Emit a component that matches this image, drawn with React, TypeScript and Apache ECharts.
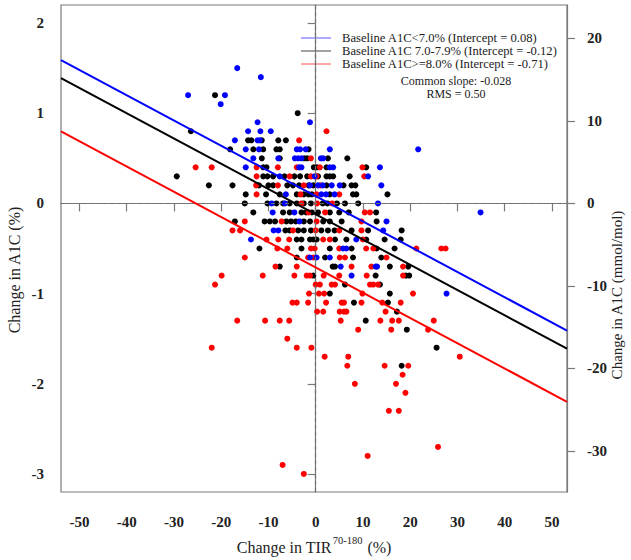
import React, { useEffect, useRef } from "react";
import * as echarts from "echarts";

// ---------- data ----------
const xTicks = [-50, -40, -30, -20, -10, 0, 10, 20, 30, 40, 50];
const yTicks = [-3, -2, -1, 0, 1, 2];
const mmolTicks = [-30, -20, -10, 0, 10, 20];
const xRange = [-53.9, 53.2];
const yRange = [-3.2, 2.2];
const mmolPerPercent = 10.929;

const groupNames = [
  "Baseline A1C<7.0% (Intercept = 0.08)",
  "Baseline A1C 7.0-7.9% (Intercept = -0.12)",
  "Baseline A1C>=8.0% (Intercept = -0.71)",
];
const intercepts = [0.08, -0.12, -0.71];
const commonSlope = -0.028;
const rms = 0.5;

const bluePoints: [number, number][] = [
  [-16.6, 1.5], [-11.6, 1.4], [-27.0, 1.2], [-19.2, 1.2], [-20.1, 1.1], [-12.3, 0.9], [-1.2, 0.9],
  [-14.3, 0.8], [-11.7, 0.8], [-9.5, 0.8],
  [-17.1, 0.7], [-12.3, 0.7], [-11.8, 0.7],
  [-14.8, 0.6], [-12.0, 0.6], [-4.0, 0.6], [-3.3, 0.6], [-2.1, 0.6], [3.0, 0.6], [21.7, 0.6],
  [-13.2, 0.5], [-7.9, 0.5], [-4.4, 0.5], [-3.7, 0.5], [-3.0, 0.5], [1.1, 0.5], [1.6, 0.5],
  [-14.8, 0.4], [-3.5, 0.4], [-3.0, 0.4], [3.0, 0.4], [3.7, 0.4], [13.6, 0.4],
  [-7.6, 0.3], [-0.2, 0.3], [11.1, 0.3],
  [-1.2, 0.2], [0.5, 0.2], [1.5, 0.2], [3.4, 0.2], [5.1, 0.2], [13.9, 0.2],
  [-6.3, 0.1], [1.2, 0.1], [2.2, 0.1], [4.0, 0.1],
  [-9.3, 0.0], [-6.5, 0.0], [13.2, 0.0],
  [-9.1, -0.1], [-4.5, -0.1], [34.9, -0.1],
  [-3.4, -0.2], [15.0, -0.2],
  [-8.9, -0.3], [-7.9, -0.3], [14.3, -0.3],
  [-13.7, -0.4], [8.6, -0.4],
  [5.8, -0.5], [6.5, -0.5],
  [-1.2, -0.6], [0.2, -0.6], [3.0, -0.6],
  [5.3, -0.7], [12.7, -0.7], [13.0, -0.7],
  [7.6, -0.8],
  [27.7, -1.0],
];

const blackPoints: [number, number][] = [
  [-21.3, 1.2], [-3.8, 1.0], [-26.4, 0.8],
  [-14.3, 0.7], [-13.6, 0.7], [-11.4, 0.7], [-7.9, 0.7], [-6.3, 0.7],
  [-18.1, 0.6], [-13.2, 0.6], [-11.1, 0.6], [-8.3, 0.6], [-7.6, 0.6], [-1.5, 0.6],
  [-11.4, 0.5], [-7.6, 0.5], [-2.4, 0.5], [-1.8, 0.5], [2.6, 0.5], [6.7, 0.5],
  [-11.1, 0.4], [-10.4, 0.4], [-0.4, 0.4], [0.3, 0.4], [2.3, 0.4], [10.7, 0.4],
  [-29.4, 0.3], [-11.1, 0.3], [-10.2, 0.3], [-9.0, 0.3], [-6.6, 0.3], [-4.5, 0.3], [-3.3, 0.3], [-1.8, 0.3], [0.5, 0.3], [2.3, 0.3], [3.0, 0.3], [3.7, 0.3], [7.2, 0.3],
  [-22.6, 0.2], [-17.6, 0.2], [-12.0, 0.2], [-10.0, 0.2], [-9.0, 0.2], [-6.0, 0.2], [-4.8, 0.2], [-3.5, 0.2], [-1.5, 0.2], [-0.5, 0.2], [2.3, 0.2], [5.9, 0.2], [7.6, 0.2], [8.4, 0.2],
  [-14.8, 0.1], [-10.5, 0.1], [-7.6, 0.1], [-4.0, 0.1], [-2.5, 0.1], [-1.5, 0.1], [-0.8, 0.1], [3.0, 0.1], [7.9, 0.1], [8.6, 0.1], [15.2, 0.1],
  [-15.0, 0.0], [-10.2, 0.0], [-8.3, 0.0], [-6.9, 0.0], [-5.5, 0.0], [-4.0, 0.0], [-2.5, 0.0], [-1.0, 0.0], [1.5, 0.0], [2.5, 0.0], [4.5, 0.0], [6.2, 0.0], [9.0, 0.0],
  [-13.2, -0.1], [-6.9, -0.1], [-5.5, -0.1], [-3.0, -0.1], [-2.0, -0.1], [-0.8, -0.1], [0.5, -0.1], [3.0, -0.1], [5.0, -0.1], [7.0, -0.1], [12.8, -0.1],
  [-17.1, -0.2], [-10.8, -0.2], [-9.7, -0.2], [-8.6, -0.2], [-6.2, -0.2], [-5.2, -0.2], [-4.2, -0.2], [-2.5, -0.2], [-1.2, -0.2], [1.6, -0.2], [3.0, -0.2], [5.5, -0.2], [12.9, -0.2],
  [-6.4, -0.3], [-5.5, -0.3], [-3.7, -0.3], [-2.5, -0.3], [-1.0, -0.3], [1.2, -0.3], [2.6, -0.3], [4.0, -0.3], [7.6, -0.3], [11.1, -0.3], [18.2, -0.3],
  [-4.0, -0.4], [-3.0, -0.4], [-1.2, -0.4], [-0.5, -0.4], [0.2, -0.4], [4.1, -0.4], [6.5, -0.4], [10.7, -0.4], [14.6, -0.4], [18.0, -0.4],
  [-11.9, -0.5], [-3.0, -0.5], [3.0, -0.5], [7.6, -0.5], [12.9, -0.5], [16.7, -0.5],
  [-4.0, -0.6], [2.0, -0.6], [7.9, -0.6], [13.9, -0.6],
  [-7.6, -0.7], [3.6, -0.7], [4.1, -0.7], [15.7, -0.7], [19.6, -0.7],
  [-0.5, -0.8], [12.7, -0.8], [19.1, -0.8], [19.8, -0.8],
  [6.2, -0.9], [13.6, -0.9],
  [3.0, -1.0], [15.7, -1.0],
  [8.1, -1.1], [15.3, -1.1],
  [17.2, -1.2], [10.6, -1.3], [19.3, -1.4], [25.6, -1.6], [18.2, -1.8],
];

const redPoints: [number, number][] = [
  [2.3, 0.8], [-3.5, 0.7], [-1.0, 0.5],
  [-25.4, 0.4], [-22.0, 0.4], [-12.5, 0.4], [-8.0, 0.4], [-4.0, 0.4], [0.9, 0.4], [9.9, 0.4],
  [-12.5, 0.3], [-5.5, 0.3], [-1.0, 0.3], [0.2, 0.3], [10.3, 0.3],
  [-12.6, 0.2], [-8.0, 0.2], [-2.5, 0.2], [1.0, 0.2],
  [-12.5, 0.1], [-3.2, 0.1], [0.2, 0.1], [5.0, 0.1],
  [-3.0, 0.0], [0.3, 0.0], [3.5, 0.0],
  [-1.5, -0.1], [2.0, -0.1], [10.4, -0.1], [11.5, -0.1],
  [-15.0, -0.2], [-7.2, -0.2], [0.2, -0.2], [9.7, -0.2],
  [-17.6, -0.3], [-16.0, -0.3], [-4.8, -0.3], [0.0, -0.3], [5.0, -0.3], [9.7, -0.3],
  [-10.4, -0.4], [-7.9, -0.4], [-5.6, -0.4], [1.6, -0.4], [3.0, -0.4], [10.0, -0.4],
  [-8.1, -0.5], [-6.0, -0.5], [-1.0, -0.5], [-0.2, -0.5], [5.0, -0.5], [10.7, -0.5], [12.2, -0.5], [21.3, -0.5], [26.6, -0.5], [27.5, -0.5],
  [-15.0, -0.6], [-1.6, -0.6], [-0.5, -0.6], [5.1, -0.6], [6.2, -0.6], [15.0, -0.6],
  [-8.5, -0.7], [-4.0, -0.7], [7.6, -0.7], [11.8, -0.7], [18.5, -0.7],
  [-19.9, -0.8], [-11.2, -0.8], [-4.5, -0.8], [-1.9, -0.8], [-1.2, -0.8], [1.7, -0.8], [5.0, -0.8], [10.8, -0.8], [18.5, -0.8],
  [-21.3, -0.9], [0.0, -0.9], [0.9, -0.9], [3.4, -0.9], [4.1, -0.9], [11.5, -0.9], [12.2, -0.9], [13.2, -0.9],
  [-1.4, -1.0], [0.7, -1.0], [1.8, -1.0], [9.9, -1.0], [20.6, -1.0],
  [-4.9, -1.1], [-4.0, -1.1], [-1.6, -1.1], [2.2, -1.1], [5.5, -1.1], [6.0, -1.1], [9.7, -1.1], [14.1, -1.1], [18.0, -1.1],
  [0.3, -1.2], [1.6, -1.2], [5.1, -1.2], [6.0, -1.2], [6.5, -1.2], [14.8, -1.2],
  [-16.6, -1.3], [-10.7, -1.3], [-7.6, -1.3], [-5.6, -1.3], [5.3, -1.3], [13.7, -1.3], [16.2, -1.3], [17.6, -1.3], [25.0, -1.3],
  [9.0, -1.4], [16.0, -1.4], [23.8, -1.4],
  [-6.0, -1.5],
  [-22.0, -1.6], [-4.0, -1.6], [-0.9, -1.6],
  [1.9, -1.7], [6.9, -1.7], [30.5, -1.7],
  [6.7, -1.8], [14.6, -1.8], [19.6, -1.8],
  [18.4, -1.9], [8.3, -2.0], [17.0, -2.0], [19.0, -2.1], [15.5, -2.3], [17.6, -2.3],
  [25.9, -2.7], [11.0, -2.8], [-7.0, -2.9], [-2.5, -3.0],
];

const groupColors = ["#0000ff", "#000000", "#ff0000"];
const legendColors = ["#5a5aff", "#444444", "#ff5050"];

const FONT = "'Liberation Serif', 'Times New Roman', serif";

export default function App() {
  const ref = useRef<HTMLDivElement>(null);

  useEffect(() => {
    if (!ref.current) return;
    const chart = echarts.init(ref.current, undefined, { renderer: "svg" });

    const groupsPts = [bluePoints, blackPoints, redPoints];
    const lineSeries = intercepts.map((a, i) => ({
      type: "line",
      name: groupNames[i] + " fit",
      data: [
        [xRange[0], a + commonSlope * xRange[0]],
        [xRange[1], a + commonSlope * xRange[1]],
      ],
      showSymbol: false,
      symbol: "none",
      lineStyle: { color: groupColors[i], width: 2 },
      z: 5,
      silent: true,
    }));

    const drawOrder = [1, 2, 0];
    const scatterSeries = drawOrder.map((i) => ({
      type: "scatter",
      name: groupNames[i],
      data: groupsPts[i],
      symbolSize: 6,
      itemStyle: { color: groupColors[i], opacity: 1 },
      z: 3,
      silent: true,
    }));

    const g: any[] = [];
    const legendY = [38, 51, 64];
    groupNames.forEach((n, i) => {
      g.push({
        type: "line",
        shape: { x1: 301, y1: legendY[i], x2: 331, y2: legendY[i] },
        style: { stroke: legendColors[i], lineWidth: 1 },
        silent: true,
      });
      g.push({
        type: "text",
        x: 342,
        y: legendY[i],
        style: {
          text: n,
          fill: "#222",
          font: `12.6px ${FONT}`,
          textVerticalAlign: "middle",
          textAlign: "left",
        },
        silent: true,
      });
    });
    g.push({
      type: "text",
      x: 456,
      y: 81,
      style: {
        text: `Common slope: ${commonSlope.toFixed(3)}`,
        fill: "#222",
        font: `12px ${FONT}`,
        textVerticalAlign: "middle",
        textAlign: "center",
      },
      silent: true,
    });
    g.push({
      type: "text",
      x: 456,
      y: 93.5,
      style: {
        text: `RMS = ${rms.toFixed(2)}`,
        fill: "#222",
        font: `12px ${FONT}`,
        textVerticalAlign: "middle",
        textAlign: "center",
      },
      silent: true,
    });
    // axis titles (read bottom to top)
    g.push({
      type: "text",
      x: 14,
      y: 270,
      rotation: Math.PI / 2,
      style: {
        text: "Change in A1C (%)",
        fill: "#222",
        font: `16px ${FONT}`,
        textVerticalAlign: "middle",
        textAlign: "center",
      },
      silent: true,
    });
    g.push({
      type: "text",
      x: 617,
      y: 295,
      rotation: Math.PI / 2,
      style: {
        text: "Change in A1C (mmol/mol)",
        fill: "#222",
        font: `15px ${FONT}`,
        textVerticalAlign: "middle",
        textAlign: "center",
      },
      silent: true,
    });

    const tickLabelStyle = {
      fontFamily: FONT,
      fontSize: 15,
      fontWeight: "bold",
      color: "#222",
    };
    const axisLine = { show: true, lineStyle: { color: "#7a7a7a", width: 1.2 } };
    const axisTick = (vals: number[]) => ({
      show: true,
      customValues: vals,
      length: 8,
      lineStyle: { color: "#7a7a7a", width: 1.2 },
    });

    chart.setOption({
      animation: false,
      backgroundColor: "#ffffff",
      grid: {
        left: 61,
        right: 64,
        top: 5,
        bottom: 68,
        show: true,
        borderColor: "#7a7a7a",
        borderWidth: 1.2,
        backgroundColor: "transparent",
        containLabel: false,
        outerBoundsMode: "none",
      },
      xAxis: {
        type: "value",
        min: xRange[0],
        max: xRange[1],
        axisLine,
        axisTick: axisTick(xTicks),
        axisLabel: {
          ...tickLabelStyle,
          customValues: xTicks,
          margin: 22,
        },
        splitLine: { show: false },
        name: "{t|Change in TIR}{s|70-180}{t| (%)}",
        nameLocation: "middle",
        nameGap: 43,
        nameTextStyle: {
          rich: {
            t: { fontFamily: FONT, fontSize: 16, color: "#222", lineHeight: 20, verticalAlign: "bottom" },
            s: { fontFamily: FONT, fontSize: 10.5, color: "#222", lineHeight: 20, verticalAlign: "top", padding: [0, 1, 0, 1] },
          },
        },
      },
      yAxis: [
        {
          type: "value",
          position: "left",
          min: yRange[0],
          max: yRange[1],
          axisLine,
          axisTick: axisTick(yTicks),
          axisLabel: {
            ...tickLabelStyle,
            customValues: yTicks,
            margin: 17,
          },
          splitLine: { show: false },
        },
        {
          type: "value",
          position: "right",
          min: yRange[0] * mmolPerPercent,
          max: yRange[1] * mmolPerPercent,
          axisLine,
          axisTick: axisTick(mmolTicks),
          axisLabel: {
            ...tickLabelStyle,
            customValues: mmolTicks,
            margin: 20,
          },
          splitLine: { show: false },
        },
      ],
      graphic: g,
      series: [
        {
          type: "line",
          name: "zero-ref",
          data: [],
          silent: true,
          markLine: {
            silent: true,
            symbol: "none",
            label: { show: false },
            lineStyle: { color: "#707070", type: [4, 3], width: 1.2 },
            data: [{ xAxis: 0 }, { yAxis: 0 }],
          },
          z: 2,
        },
        ...scatterSeries,
        ...lineSeries,
      ],
    });

    return () => chart.dispose();
  }, []);

  return (
    <div
      ref={ref}
      style={{ position: "absolute", left: 0, top: 0, width: 631, height: 560, background: "#fff" }}
    />
  );
}
